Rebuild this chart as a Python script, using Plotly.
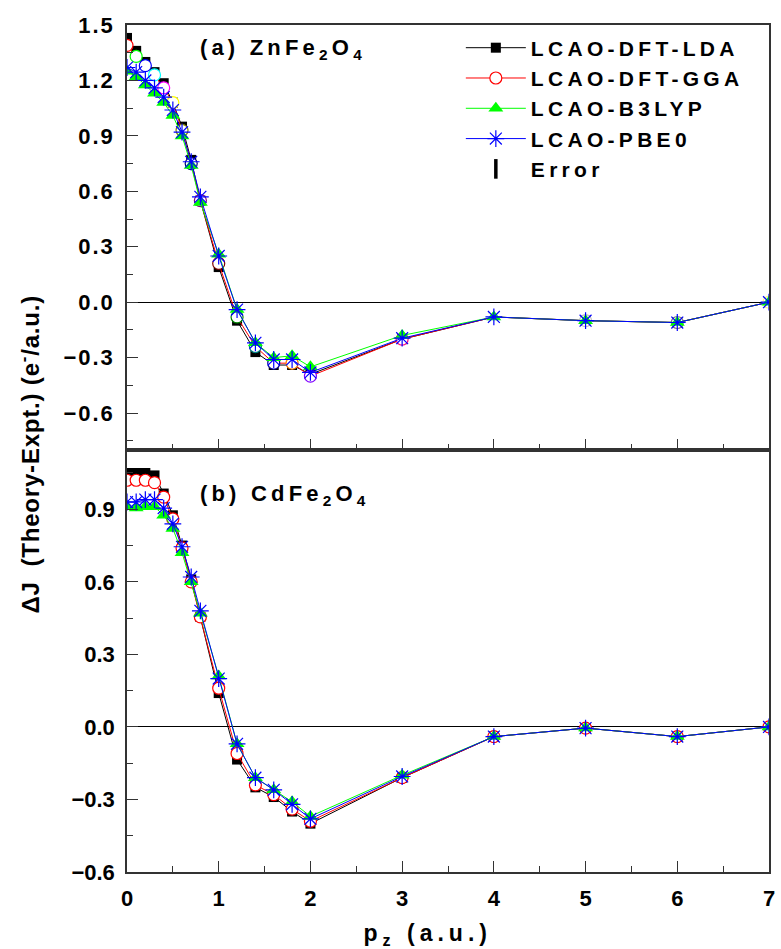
import plotly.graph_objects as go
from plotly.subplots import make_subplots

pz = [0, 0.1, 0.2, 0.3, 0.4, 0.5, 0.6, 0.7, 0.8, 1.0, 1.2, 1.4, 1.6, 1.8, 2.0, 3, 4, 5, 6, 7]

# (a) ZnFe2O4
zn_lda = [1.43, 1.36, 1.30, 1.245, 1.185, 1.08, 0.95, 0.77, 0.55, 0.19, -0.10, -0.27, -0.34, -0.34, -0.39, -0.20, -0.08, -0.10, -0.11, 0.00]
zn_gga = [1.39, 1.33, 1.28, 1.23, 1.16, 1.08, 0.93, 0.75, 0.55, 0.21, -0.08, -0.24, -0.33, -0.33, -0.40, -0.20, -0.08, -0.10, -0.11, 0.00]
zn_b3lyp = [1.25, 1.22, 1.175, 1.13, 1.08, 1.01, 0.90, 0.74, 0.54, 0.26, -0.04, -0.22, -0.30, -0.29, -0.35, -0.18, -0.08, -0.10, -0.11, 0.00]
zn_pbe0 = [1.27, 1.245, 1.20, 1.16, 1.11, 1.04, 0.92, 0.76, 0.57, 0.25, -0.04, -0.22, -0.31, -0.31, -0.38, -0.195, -0.08, -0.10, -0.11, 0.00]

# (b) CdFe2O4
cd_lda = [1.05, 1.05, 1.05, 1.04, 0.965, 0.875, 0.75, 0.61, 0.455, 0.14, -0.135, -0.25, -0.29, -0.35, -0.40, -0.21, -0.04, -0.005, -0.04, 0.00]
cd_gga = [1.02, 1.02, 1.02, 1.01, 0.95, 0.86, 0.74, 0.60, 0.455, 0.16, -0.11, -0.24, -0.28, -0.34, -0.39, -0.21, -0.04, -0.005, -0.04, 0.00]
cd_b3lyp = [0.91, 0.905, 0.91, 0.91, 0.875, 0.82, 0.72, 0.60, 0.47, 0.21, -0.07, -0.21, -0.26, -0.31, -0.37, -0.20, -0.04, -0.005, -0.04, 0.00]
cd_pbe0 = [0.93, 0.93, 0.94, 0.94, 0.905, 0.84, 0.745, 0.62, 0.48, 0.20, -0.07, -0.21, -0.26, -0.32, -0.38, -0.205, -0.04, -0.005, -0.04, 0.00]

series_names = ["LCAO-DFT-LDA", "LCAO-DFT-GGA", "LCAO-B3LYP", "LCAO-PBE0"]
panel_labels = ["(a) ZnFe<sub>2</sub>O<sub>4</sub>", "(b) CdFe<sub>2</sub>O<sub>4</sub>"]
y_ticks_top = [-0.6, -0.3, 0.0, 0.3, 0.6, 0.9, 1.2, 1.5]
y_ticks_bot = [-0.6, -0.3, 0.0, 0.3, 0.6, 0.9]

# Origin-style incremented outline colours for GGA circles in panel (a)
origin_cycle = ["#FF0000", "#00FF00", "#0000FF", "#00FFFF", "#FF00FF", "#FFFF00", "#808000",
                "#000080", "#800080", "#800000", "#008000", "#008080", "#0000A0", "#FF8000",
                "#8000FF", "#FF0080", "#FFFFFF", "#C0C0C0", "#808080", "#FFFF80"]

FONT = "Liberation Sans, Arial, sans-serif"

fig = make_subplots(rows=2, cols=1, shared_xaxes=True, vertical_spacing=0)

styles = [
    dict(line=dict(color="black", width=1), marker=dict(symbol="square", size=10, color="black")),
    dict(line=dict(color="red", width=1), marker=dict(symbol="circle", size=12, color="white",
                                                       line=dict(color="red", width=1.2))),
    dict(line=dict(color="#00ff00", width=1), marker=dict(symbol="triangle-up", size=13, color="#00ff00")),
    dict(line=dict(color="blue", width=1), marker=dict(symbol="asterisk-open", size=14, color="blue",
                                                        line=dict(color="blue", width=1.2))),
]

data_top = [zn_lda, zn_gga, zn_b3lyp, zn_pbe0]
data_bot = [cd_lda, cd_gga, cd_b3lyp, cd_pbe0]

for i, (name, ys) in enumerate(zip(series_names, data_top)):
    st = styles[i]
    marker = dict(st["marker"])
    if i == 1:
        marker = dict(symbol="circle", size=12, color="white",
                      line=dict(color=origin_cycle[:len(pz)], width=1.2))
    fig.add_trace(go.Scatter(x=pz, y=ys, mode="lines+markers", name=name,
                             line=st["line"], marker=marker, showlegend=False), row=1, col=1)

for i, (name, ys) in enumerate(zip(series_names, data_bot)):
    st = styles[i]
    fig.add_trace(go.Scatter(x=pz, y=ys, mode="lines+markers", name=name,
                             line=st["line"], marker=st["marker"], showlegend=False), row=2, col=1)

# legend entries
for i, name in enumerate(series_names):
    st = styles[i]
    fig.add_trace(go.Scatter(x=[None], y=[None], mode="lines+markers", name=name,
                             line=st["line"], marker=st["marker"], showlegend=True), row=1, col=1)
fig.add_trace(go.Scatter(x=[None], y=[None], mode="markers", name="Error",
                         marker=dict(symbol="line-ns", size=14, color="black",
                                     line=dict(color="black", width=3.5)),
                         showlegend=True), row=1, col=1)

axis_common = dict(showline=True, linecolor="#333333", linewidth=1.5, mirror=True,
                   ticks="inside", ticklen=11, tickwidth=1.2, tickcolor="#333333",
                   showgrid=False, tickfont=dict(family=FONT, size=22, color="black", weight="bold"))

fig.update_xaxes(range=[0, 7], dtick=1, tick0=0, zeroline=False,
                 minor=dict(ticks="inside", ticklen=6, dtick=0.5, tickcolor="#333333", tickwidth=1.2),
                 ticklabelstandoff=6, **axis_common)
fig.update_xaxes(showticklabels=False, row=1, col=1)

fig.update_yaxes(zeroline=True, zerolinecolor="black", zerolinewidth=1,
                 minor=dict(ticks="inside", ticklen=6, dtick=0.15, tickcolor="#333333", tickwidth=1.2),
                 tickformat=".1f", ticklabelstandoff=6, **axis_common)
fig.update_yaxes(range=[-0.8, 1.5], tickvals=y_ticks_top, row=1, col=1)
fig.update_yaxes(range=[-0.6, 1.145], tickvals=y_ticks_bot, row=2, col=1)

fig.update_layout(
    width=781, height=949,
    margin=dict(l=127, r=6, t=25, b=77),
    plot_bgcolor="white", paper_bgcolor="white",
    font=dict(family=FONT, color="black"),
    legend=dict(x=0.52, y=0.997, xanchor="left", yanchor="top",
                bgcolor="rgba(0,0,0,0)", borderwidth=0,
                font=dict(family=FONT, size=21, color="black", weight="bold"),
                itemwidth=60, tracegroupgap=0),
)
fig.layout.yaxis.domain = [0.4982, 1.0]
fig.layout.yaxis2.domain = [0.0, 0.4982]

fig.add_annotation(text=panel_labels[0], xref="x", yref="y", x=1.02, y=1.37,
                   xanchor="left", yanchor="middle", showarrow=False,
                   font=dict(family=FONT, size=22, color="black", weight="bold"))
fig.add_annotation(text=panel_labels[1], xref="x2", yref="y2", x=1.02, y=0.96,
                   xanchor="left", yanchor="middle", showarrow=False,
                   font=dict(family=FONT, size=22, color="black", weight="bold"))

fig.add_annotation(text="ΔJ  (Theory-Expt.) (e<sup>-</sup>/a.u.)", xref="paper", yref="paper",
                   x=-0.152, y=0.4935, textangle=-90, showarrow=False,
                   xanchor="center", yanchor="middle",
                   font=dict(family=FONT, size=24, color="black", weight="bold"))
fig.add_annotation(text="p<sub>z</sub> (a.u.)", xref="paper", yref="paper",
                   x=0.468, y=-0.074, showarrow=False, xanchor="center", yanchor="middle",
                   font=dict(family=FONT, size=23, color="black", weight="bold"))

# widen letter spacing of bold labels as in the original figure
post = """
var gd = document.querySelector('.plotly-graph-div');
function sp(sel, v){ gd.querySelectorAll(sel).forEach(function(t){ t.style.letterSpacing = v; }); }
function apply(){
  sp('.legendtext', '4.3px');
  sp('.xtick text', '2px');
  sp('.ytick text', '2px');
  gd.querySelectorAll('.legend, .legend *').forEach(function(e){ e.removeAttribute('clip-path'); });
  gd.querySelectorAll('.annotation-text').forEach(function(t){
    var s = t.textContent;
    if (s.indexOf('Fe') >= 0) { t.style.letterSpacing = '4.2px'; }
    else if (s.indexOf('Theory') >= 0) { t.style.letterSpacing = '0.8px'; }
    else if (s.indexOf('a.u.') >= 0) { t.style.letterSpacing = '5px'; }
  });
}
apply();
setTimeout(apply, 50);
setTimeout(apply, 300);
"""

fig.write_html("out.html", post_script=post)
